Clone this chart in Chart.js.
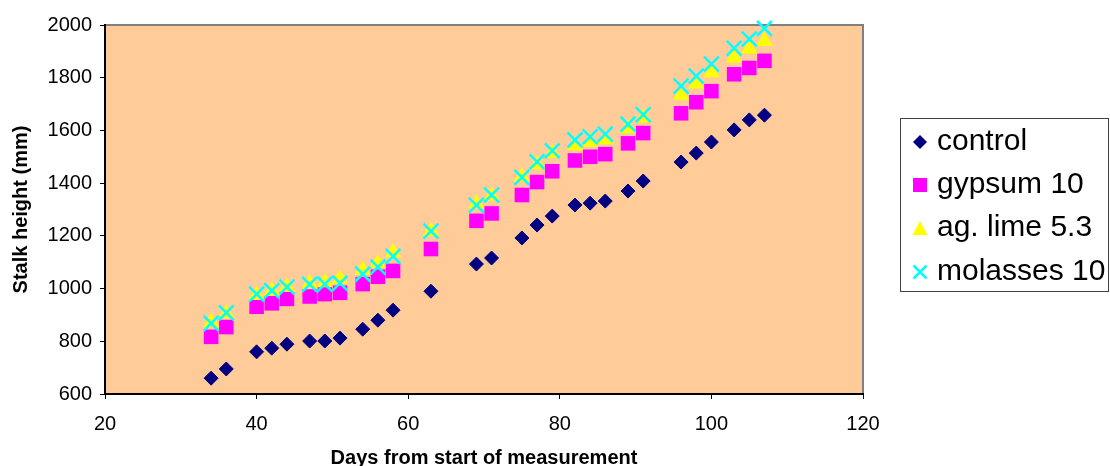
<!DOCTYPE html>
<html>
<head>
<meta charset="utf-8">
<title>Stalk height</title>
<script src="https://cdn.jsdelivr.net/npm/chart.js@4/dist/chart.umd.min.js"></script>
<style>
	html, body { margin: 0; padding: 0; background: #fff; }
	#grafico { display: block; }
</style>
</head>
<body>
<canvas id="grafico" width="1110" height="466"></canvas>
<script>
// dias de medição (eixo x)
var dias = [34, 36, 40, 42, 44, 47, 49, 51, 54, 56, 58, 63, 69, 71, 75, 77, 79, 82, 84, 86, 89, 91, 96, 98, 100, 103, 105, 107];

// altura do colmo (mm) por tratamento
var controle = [660, 695, 760, 774, 789, 801, 801, 812, 846, 880, 918, 990, 1093, 1116, 1192, 1241, 1275, 1317, 1324, 1332, 1370, 1408, 1480, 1514, 1556, 1602, 1640, 1658];
var gesso = [817, 854, 931, 944, 961, 970, 979, 984, 1017, 1045, 1067, 1150, 1257, 1285, 1355, 1404, 1445, 1486, 1500, 1510, 1551, 1590, 1665, 1707, 1749, 1813, 1837, 1864];
var calcario = [872, 904, 975, 992, 1006, 1018, 1023, 1037, 1070, 1096, 1137, 1218, 1322, 1351, 1424, 1471, 1513, 1543, 1556, 1566, 1608, 1648, 1734, 1777, 1820, 1876, 1910, 1938];
var melaco = [868, 908, 979, 992, 1006, 1016, 1017, 1020, 1055, 1082, 1122, 1218, 1316, 1355, 1422, 1481, 1523, 1564, 1576, 1586, 1624, 1660, 1768, 1806, 1852, 1912, 1947, 1987];

var nomesSeries = ['control', 'gypsum 10', 'ag. lime 5.3', 'molasses 10'];
var ticksX = [20, 40, 60, 80, 100, 120];
var ticksY = [600, 800, 1000, 1200, 1400, 1600, 1800, 2000];

var FONTE = '"Liberation Sans", Arial, Helvetica, sans-serif';

function pontos(valores) {
	return dias.map(function(d, i) {
		return { x: d, y: valores[i] };
	});
}

function fixarTicks(lista) {
	return function(scale) {
		scale.ticks = lista.map(function(v) { return { value: v }; });
	};
}

// sem separador de milhar
function rotuloSimples(valor) {
	return String(valor);
}

// fundo e moldura da área de plotagem
var fundoPlotagem = {
	id: 'fundoPlotagem',
	beforeDraw: function(chart) {
		var a = chart.chartArea;
		var ctx = chart.ctx;
		ctx.save();
		ctx.fillStyle = '#FFCC99';
		ctx.fillRect(a.left, a.top, a.right - a.left, a.bottom - a.top);
		ctx.strokeStyle = '#808080';
		ctx.lineWidth = 2;
		ctx.beginPath();
		ctx.moveTo(a.left, a.top);
		ctx.lineTo(a.right, a.top);
		ctx.lineTo(a.right, a.bottom);
		ctx.stroke();
		ctx.restore();
	}
};

// legenda com caixa, no lado direito
var legendaCaixa = {
	id: 'legendaCaixa',
	afterDraw: function(chart) {
		var ctx = chart.ctx;
		var linhas = [142, 185, 228, 272];
		var mx = 920;
		ctx.save();
		ctx.strokeStyle = '#404040';
		ctx.lineWidth = 1;
		ctx.strokeRect(900.5, 118.5, 208, 173);

		// control - losango
		ctx.fillStyle = '#000080';
		ctx.beginPath();
		ctx.moveTo(mx, linhas[0] - 7);
		ctx.lineTo(mx + 7, linhas[0]);
		ctx.lineTo(mx, linhas[0] + 7);
		ctx.lineTo(mx - 7, linhas[0]);
		ctx.closePath();
		ctx.fill();

		// gypsum - quadrado
		ctx.fillStyle = '#FF00FF';
		ctx.fillRect(mx - 7, linhas[1] - 7, 14, 14);

		// ag. lime - triângulo
		ctx.fillStyle = '#FFFF00';
		ctx.beginPath();
		ctx.moveTo(mx, linhas[2] - 7);
		ctx.lineTo(mx + 7.5, linhas[2] + 7);
		ctx.lineTo(mx - 7.5, linhas[2] + 7);
		ctx.closePath();
		ctx.fill();

		// molasses - xis
		ctx.strokeStyle = '#00FFFF';
		ctx.lineWidth = 2.5;
		ctx.beginPath();
		ctx.moveTo(mx - 6.5, linhas[3] - 6.5);
		ctx.lineTo(mx + 6.5, linhas[3] + 6.5);
		ctx.moveTo(mx + 6.5, linhas[3] - 6.5);
		ctx.lineTo(mx - 6.5, linhas[3] + 6.5);
		ctx.stroke();

		ctx.fillStyle = '#000';
		ctx.font = '30px ' + FONTE;
		ctx.textBaseline = 'middle';
		ctx.textAlign = 'left';
		nomesSeries.forEach(function(nome, i) {
			ctx.fillText(nome, 937, linhas[i]);
		});
		ctx.restore();
	}
};

var ctx = document.getElementById('grafico').getContext('2d');

var grafico = new Chart(ctx, {
	type: 'scatter',
	data: {
		datasets: [{
			label: nomesSeries[0],
			data: pontos(controle),
			pointStyle: 'rectRot',
			pointRadius: 7,
			backgroundColor: '#000080',
			borderColor: '#000080',
			borderWidth: 1,
			order: 3,
			clip: false
		}, {
			label: nomesSeries[1],
			data: pontos(gesso),
			pointStyle: 'rect',
			pointRadius: 10.3,
			backgroundColor: '#FF00FF',
			borderColor: '#FF00FF',
			borderWidth: 0,
			order: 2,
			clip: false
		}, {
			label: nomesSeries[2],
			data: pontos(calcario),
			pointStyle: 'triangle',
			pointRadius: 9.5,
			backgroundColor: '#FFFF00',
			borderColor: '#FFFF00',
			borderWidth: 0,
			order: 1,
			clip: false
		}, {
			label: nomesSeries[3],
			data: pontos(melaco),
			pointStyle: 'crossRot',
			pointRadius: 10.5,
			backgroundColor: '#00FFFF',
			borderColor: '#00FFFF',
			borderWidth: 2.5,
			order: 0,
			clip: false
		}]
	},
	options: {
		responsive: false,
		animation: false,
		events: [],
		layout: {
			padding: { top: 25, right: 247, left: 0, bottom: 0 }
		},
		plugins: {
			legend: { display: false },
			title: { display: false },
			tooltip: { enabled: false }
		},
		scales: {
			x: {
				type: 'linear',
				min: 20,
				max: 120,
				afterBuildTicks: fixarTicks(ticksX),
				afterFit: function(scale) { scale.height = 72; },
				border: { color: '#000', width: 2 },
				grid: { drawOnChartArea: false, tickLength: 5, tickColor: '#000', tickWidth: 1 },
				ticks: {
					color: '#000',
					padding: 13,
					maxRotation: 0,
					callback: rotuloSimples,
					font: { family: FONTE, size: 20 }
				},
				title: {
					display: true,
					text: 'Days from start of measurement',
					color: '#000',
					padding: { top: 0, bottom: 0 },
					font: { family: FONTE, size: 20, weight: 'bold', lineHeight: 0.8 }
				}
			},
			y: {
				type: 'linear',
				min: 600,
				max: 2000,
				afterBuildTicks: fixarTicks(ticksY),
				afterFit: function(scale) { scale.width = 105; },
				border: { color: '#000', width: 2 },
				grid: { drawOnChartArea: false, tickLength: 5, tickColor: '#000', tickWidth: 1 },
				ticks: {
					color: '#000',
					padding: 8,
					callback: rotuloSimples,
					font: { family: FONTE, size: 20 }
				},
				title: {
					display: true,
					text: 'Stalk height (mm)',
					color: '#000',
					padding: { top: 9, bottom: 0 },
					font: { family: FONTE, size: 20, weight: 'bold', lineHeight: 1.2 }
				}
			}
		}
	},
	plugins: [fundoPlotagem, legendaCaixa]
});
</script>
</body>
</html>
